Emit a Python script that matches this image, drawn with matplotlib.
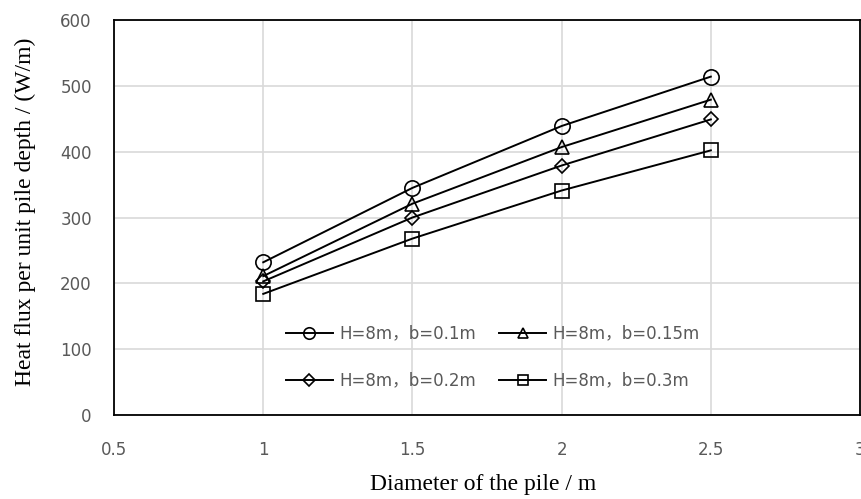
import matplotlib
matplotlib.use("Agg")
import matplotlib.pyplot as plt

diameters = [1, 1.5, 2, 2.5]
labels = ["H=8m，b=0.1m", "H=8m，b=0.15m", "H=8m，b=0.2m", "H=8m，b=0.3m"]
flux_b01 = [232, 345, 439, 514]
flux_b015 = [211, 321, 407, 479]
flux_b02 = [203, 300, 379, 449]
flux_b03 = [184, 268, 341, 402]
x_ticks = [0.5, 1, 1.5, 2, 2.5, 3]
x_tick_labels = ["0.5", "1", "1.5", "2", "2.5", "3"]
y_ticks = [0, 100, 200, 300, 400, 500, 600]

series = [flux_b01, flux_b015, flux_b02, flux_b03]
markers = ["o", "^", "D", "s"]
sizes = [11, 10.5, 7.5, 10.5]
sans = ["DejaVu Sans", "Noto Sans CJK SC"]

fig = plt.figure(figsize=(8.62, 4.99), dpi=100)
ax = fig.add_axes([0.1323, 0.1683, 0.8654, 0.7916])

handles = []
for vals, lab, m, s in zip(series, labels, markers, sizes):
    h, = ax.plot(diameters, vals, color="black", lw=1.4, marker=m, ms=s,
                 mfc="none", mec="black", mew=1.2, label=lab)
    handles.append(h)

ax.set_xlim(0.5, 3)
ax.set_ylim(0, 600)
ax.set_xticks(x_ticks)
ax.set_xticklabels(x_tick_labels)
ax.set_yticks(y_ticks)
ax.grid(True, color="#d9d9d9", lw=1.2)
ax.set_axisbelow(True)
for sp in ax.spines.values():
    sp.set_color("black")
    sp.set_linewidth(1.3)
ax.tick_params(length=0, labelsize=12, labelcolor="#595959")
ax.tick_params(axis="x", pad=19)
ax.tick_params(axis="y", pad=16)
for t in ax.get_xticklabels() + ax.get_yticklabels():
    t.set_family(sans)

ax.set_xlabel("Diameter of the pile / m", family="Liberation Serif", fontsize=17)
ax.set_ylabel("Heat flux per unit pile depth / (W/m)", family="Liberation Serif", fontsize=17)
ax.xaxis.set_label_coords(0.495, -0.15)
ax.yaxis.set_label_coords(-0.105, 0.515)

# legend fills column-wise, so reorder to get rows b=0.1, 0.15 / 0.2, 0.3
order = [0, 2, 1, 3]
leg = ax.legend([handles[i] for i in order], [labels[i] for i in order],
                ncol=2, frameon=False, loc="center", bbox_to_anchor=(0.508, 0.147),
                labelspacing=1.75, columnspacing=1.4, handlelength=2.8, handletextpad=0.4,
                markerscale=0.75, prop={"family": sans, "size": 12})
for t in leg.get_texts():
    t.set_color("#595959")

fig.savefig("out.png", dpi=100)
